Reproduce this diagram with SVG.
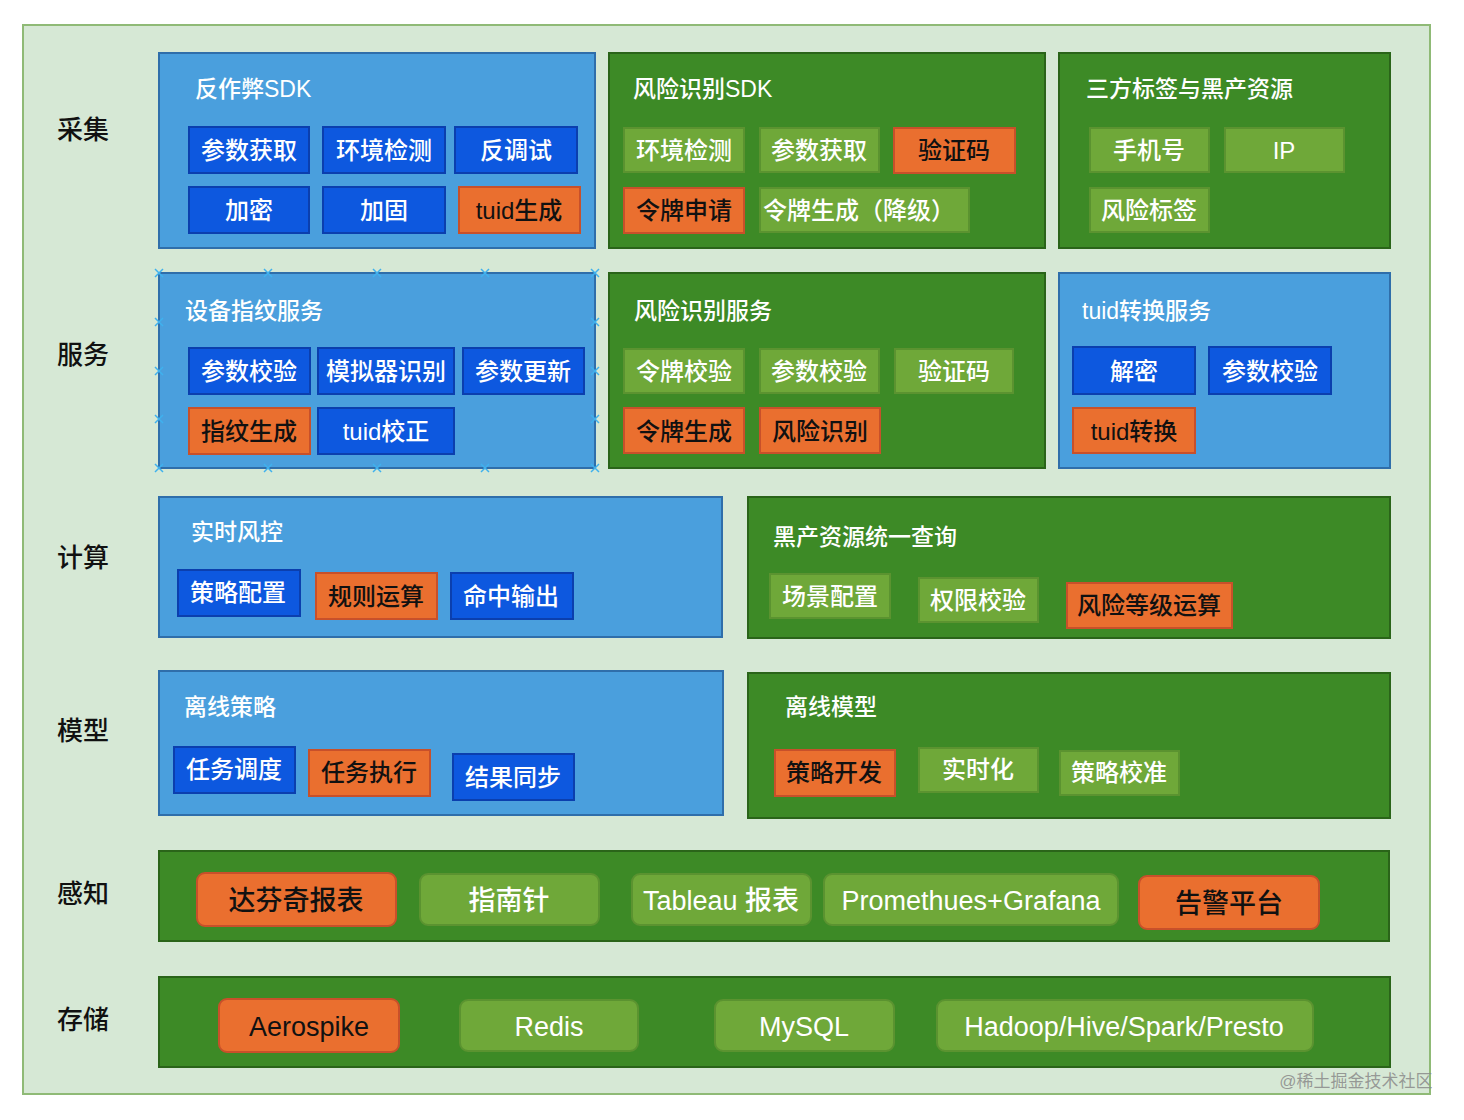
<svg xmlns="http://www.w3.org/2000/svg" width="1464" height="1120" viewBox="0 0 1464 1120">
<style>
text{font-family:"Liberation Sans","Noto Sans CJK SC",sans-serif;dominant-baseline:central}
.bg{fill:#d6e8d5;stroke:#8fba76;stroke-width:2}
.pb{fill:#4a9fdd;stroke:#2f6eaa;stroke-width:2}
.pg{fill:#3d8a26;stroke:#2a6419;stroke-width:2}
.nb{fill:#0d58df;stroke:#0b3fae;stroke-width:2}
.no{fill:#ea6f2f;stroke:#c8502a;stroke-width:2}
.nl{fill:#6fa839;stroke:#5b9330;stroke-width:2}
.tw{fill:#ffffff;font-size:24px;text-anchor:middle;font-weight:500}
.tk{fill:#111111;font-size:24px;text-anchor:middle;font-weight:500}
.ti{fill:#ffffff;font-size:23px;font-weight:500}
.rl{fill:#111111;font-size:26px;text-anchor:middle;font-weight:500}
.bw{fill:#ffffff;font-size:27px;text-anchor:middle;font-weight:500}
.bk{fill:#111111;font-size:27px;text-anchor:middle;font-weight:500}
.sel{stroke:#3fb1ee;stroke-width:1.5;fill:none}
</style>
<rect x="23" y="25" width="1407" height="1069" class="bg"/>
<g id="row-labels">
<text x="83" y="130" class="rl">采集</text>
<text x="83" y="355" class="rl">服务</text>
<text x="83" y="558" class="rl">计算</text>
<text x="83" y="731" class="rl">模型</text>
<text x="83" y="894" class="rl">感知</text>
<text x="83" y="1020" class="rl">存储</text>
</g>
<g id="anti-fraud-sdk">
<rect x="159" y="53" width="436" height="195" class="pb"/>
<text x="195" y="89" class="ti">反作弊SDK</text>
<rect x="189" y="127" width="120" height="46" class="nb"/><text x="249" y="150" class="tw">参数获取</text>
<rect x="323" y="127" width="122" height="46" class="nb"/><text x="384" y="150" class="tw">环境检测</text>
<rect x="455" y="127" width="122" height="46" class="nb"/><text x="516" y="150" class="tw">反调试</text>
<rect x="189" y="187" width="120" height="46" class="nb"/><text x="249" y="210" class="tw">加密</text>
<rect x="323" y="187" width="122" height="46" class="nb"/><text x="384" y="210" class="tw">加固</text>
<rect x="459" y="187" width="121" height="46" class="no"/><text x="519" y="210" class="tk">tuid生成</text>
</g>
<g id="risk-sdk">
<rect x="609" y="53" width="436" height="195" class="pg"/>
<text x="633" y="89" class="ti">风险识别SDK</text>
<rect x="624" y="128" width="120" height="44" class="nl"/><text x="684" y="150" class="tw">环境检测</text>
<rect x="760" y="128" width="119" height="44" class="nl"/><text x="819" y="150" class="tw">参数获取</text>
<rect x="894" y="128" width="121" height="45" class="no"/><text x="954" y="150" class="tk">验证码</text>
<rect x="624" y="188" width="120" height="45" class="no"/><text x="684" y="210" class="tk">令牌申请</text>
<rect x="760" y="188" width="209" height="44" class="nl"/><text x="859" y="210" class="tw">令牌生成（降级）</text>
</g>
<g id="third-party">
<rect x="1059" y="53" width="331" height="195" class="pg"/>
<text x="1086" y="89" class="ti">三方标签与黑产资源</text>
<rect x="1090" y="128" width="119" height="44" class="nl"/><text x="1149" y="150" class="tw">手机号</text>
<rect x="1225" y="128" width="119" height="44" class="nl"/><text x="1284" y="150" class="tw">IP</text>
<rect x="1090" y="188" width="119" height="44" class="nl"/><text x="1149" y="210" class="tw">风险标签</text>
</g>
<g id="device-fp-service">
<rect x="159" y="273" width="436" height="195" class="pb"/>
<text x="185" y="311" class="ti">设备指纹服务</text>
<rect x="189" y="348" width="121" height="46" class="nb"/><text x="249" y="371" class="tw">参数校验</text>
<rect x="318" y="348" width="136" height="46" class="nb"/><text x="386" y="371" class="tw">模拟器识别</text>
<rect x="463" y="348" width="121" height="46" class="nb"/><text x="523" y="371" class="tw">参数更新</text>
<rect x="189" y="408" width="121" height="46" class="no"/><text x="249" y="431" class="tk">指纹生成</text>
<rect x="318" y="408" width="136" height="46" class="nb"/><text x="386" y="431" class="tw">tuid校正</text>
<path class="sel" d="M155 269l8 8M163 269l-8 8M264 269l8 8M272 269l-8 8M373 269l8 8M381 269l-8 8M481 269l8 8M489 269l-8 8M591 269l8 8M599 269l-8 8M155 464l8 8M163 464l-8 8M264 464l8 8M272 464l-8 8M373 464l8 8M381 464l-8 8M481 464l8 8M489 464l-8 8M591 464l8 8M599 464l-8 8M155 318l8 8M163 318l-8 8M155 367l8 8M163 367l-8 8M155 415l8 8M163 415l-8 8M591 318l8 8M599 318l-8 8M591 367l8 8M599 367l-8 8M591 415l8 8M599 415l-8 8"/>
</g>
<g id="risk-service">
<rect x="609" y="273" width="436" height="195" class="pg"/>
<text x="634" y="311" class="ti">风险识别服务</text>
<rect x="624" y="349" width="120" height="44" class="nl"/><text x="684" y="371" class="tw">令牌校验</text>
<rect x="760" y="349" width="119" height="44" class="nl"/><text x="819" y="371" class="tw">参数校验</text>
<rect x="895" y="349" width="118" height="44" class="nl"/><text x="954" y="371" class="tw">验证码</text>
<rect x="624" y="408" width="120" height="45" class="no"/><text x="684" y="431" class="tk">令牌生成</text>
<rect x="760" y="408" width="120" height="45" class="no"/><text x="820" y="431" class="tk">风险识别</text>
</g>
<g id="tuid-service">
<rect x="1059" y="273" width="331" height="195" class="pb"/>
<text x="1082" y="311" class="ti">tuid转换服务</text>
<rect x="1073" y="347" width="122" height="47" class="nb"/><text x="1134" y="371" class="tw">解密</text>
<rect x="1209" y="347" width="122" height="47" class="nb"/><text x="1270" y="371" class="tw">参数校验</text>
<rect x="1073" y="408" width="122" height="45" class="no"/><text x="1134" y="431" class="tk">tuid转换</text>
</g>
<g id="realtime-risk">
<rect x="159" y="497" width="563" height="140" class="pb"/>
<text x="191" y="532" class="ti">实时风控</text>
<rect x="178" y="570" width="122" height="46" class="nb"/><text x="238" y="592" class="tw">策略配置</text>
<rect x="316" y="573" width="121" height="46" class="no"/><text x="376" y="596" class="tk">规则运算</text>
<rect x="451" y="573" width="122" height="46" class="nb"/><text x="511" y="596" class="tw">命中输出</text>
</g>
<g id="blackmarket-query">
<rect x="748" y="497" width="642" height="141" class="pg"/>
<text x="773" y="537" class="ti">黑产资源统一查询</text>
<rect x="770" y="574" width="120" height="44" class="nl"/><text x="830" y="596" class="tw">场景配置</text>
<rect x="919" y="578" width="119" height="44" class="nl"/><text x="978" y="600" class="tw">权限校验</text>
<rect x="1067" y="583" width="165" height="45" class="no"/><text x="1149" y="605" class="tk">风险等级运算</text>
</g>
<g id="offline-strategy">
<rect x="159" y="671" width="564" height="144" class="pb"/>
<text x="184" y="707" class="ti">离线策略</text>
<rect x="174" y="747" width="121" height="46" class="nb"/><text x="234" y="769" class="tw">任务调度</text>
<rect x="309" y="750" width="121" height="46" class="no"/><text x="369" y="772" class="tk">任务执行</text>
<rect x="453" y="754" width="121" height="46" class="nb"/><text x="513" y="777" class="tw">结果同步</text>
</g>
<g id="offline-model">
<rect x="748" y="673" width="642" height="145" class="pg"/>
<text x="785" y="707" class="ti">离线模型</text>
<rect x="775" y="750" width="120" height="46" class="no"/><text x="834" y="772" class="tk">策略开发</text>
<rect x="919" y="748" width="119" height="44" class="nl"/><text x="978" y="769" class="tw">实时化</text>
<rect x="1060" y="751" width="119" height="44" class="nl"/><text x="1119" y="772" class="tw">策略校准</text>
</g>
<g id="perception">
<rect x="159" y="851" width="1230" height="90" class="pg"/>
<rect x="197" y="873" width="199" height="53" rx="8" class="no"/><text x="296" y="901" class="bk">达芬奇报表</text>
<rect x="420" y="874" width="179" height="51" rx="8" class="nl"/><text x="509" y="901" class="bw">指南针</text>
<rect x="632" y="874" width="179" height="51" rx="8" class="nl"/><text x="721" y="901" class="bw">Tableau 报表</text>
<rect x="824" y="874" width="294" height="51" rx="8" class="nl"/><text x="971" y="901" class="bw">Promethues+Grafana</text>
<rect x="1139" y="876" width="180" height="53" rx="8" class="no"/><text x="1229" y="904" class="bk">告警平台</text>
</g>
<g id="storage">
<rect x="159" y="977" width="1231" height="90" class="pg"/>
<rect x="219" y="999" width="180" height="53" rx="8" class="no"/><text x="309" y="1027" class="bk">Aerospike</text>
<rect x="460" y="1000" width="178" height="51" rx="8" class="nl"/><text x="549" y="1027" class="bw">Redis</text>
<rect x="715" y="1000" width="179" height="51" rx="8" class="nl"/><text x="804" y="1027" class="bw">MySQL</text>
<rect x="937" y="1000" width="376" height="51" rx="8" class="nl"/><text x="1124" y="1027" class="bw">Hadoop/Hive/Spark/Presto</text>
</g>
<g id="connectors"></g>
<text x="1356" y="1081" style="fill:#8a8a8a;fill-opacity:0.85;font-size:17px;text-anchor:middle">@稀土掘金技术社区</text>
</svg>
